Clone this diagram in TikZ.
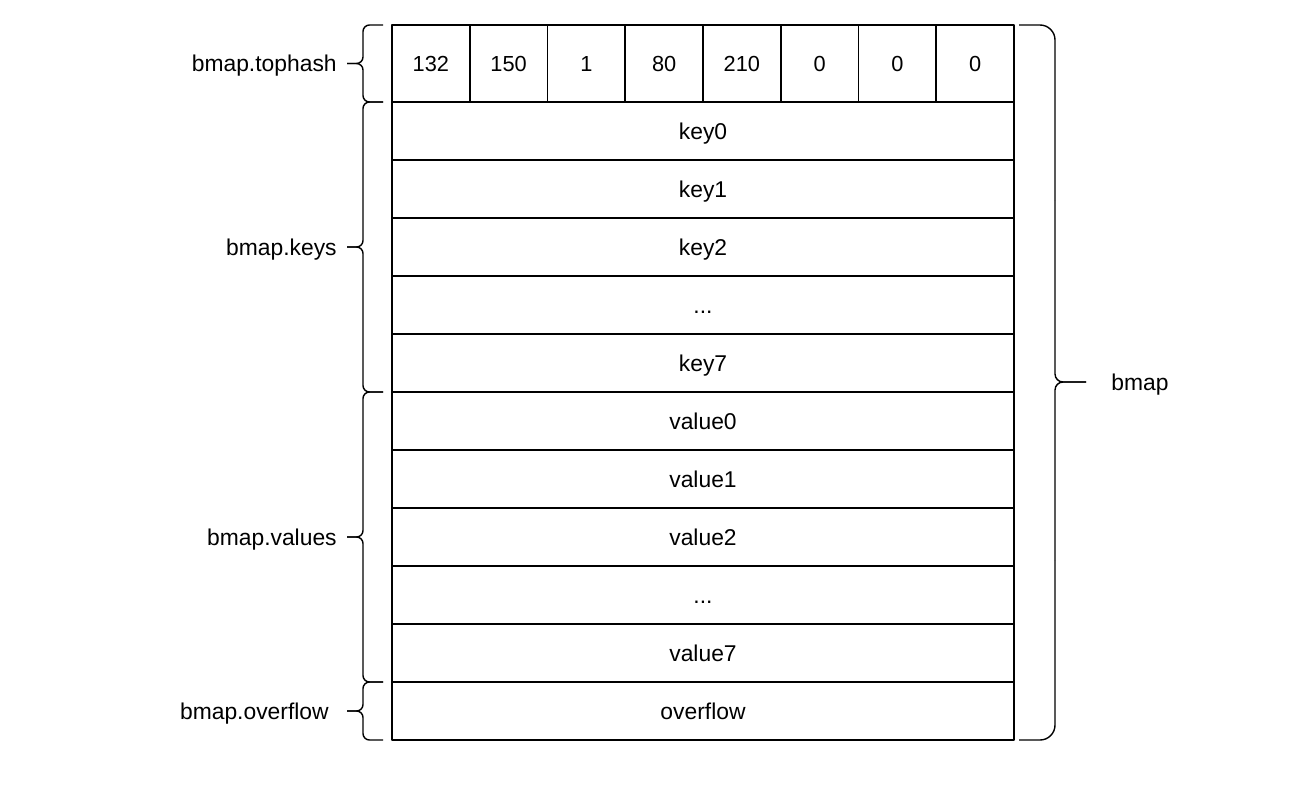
\documentclass[tikz,border=0pt]{standalone}
\usepackage{fontspec}
\setmainfont{Liberation Sans}
\usetikzlibrary{positioning}
\newcommand{\rowdots}{...}

\begin{document}
\begin{tikzpicture}[x=0.2mm, y=-0.2mm, line join=round,
    every node/.style={font=\fontsize{13}{15}\selectfont, text height=9.3pt, text depth=0pt},
    cell/.style={draw, line width=0.9pt, minimum width=15.55mm, minimum height=15.4mm, inner sep=0pt, outer sep=0pt,
                 font=\fontsize{12.4}{15}\selectfont, text height=8.9pt},
    slot/.style={draw, line width=0.9pt, minimum width=124.4mm, minimum height=11.6mm, inner sep=0pt, outer sep=0pt},
    brace/.style={line width=0.8pt, rounded corners=1.3mm}]
        \useasboundingbox (0,0) rectangle (1294,792);

        % Tophash
        \foreach \v [count=\i] in {132,150,1,80,210,0,0,0}
            \node[cell] (th\i) at ({392+77.75*(\i-0.5)}, 63.5) {\v};

        % Claves, valores y overflow
        \node[slot, anchor=north west] (key0) at (th1.south west) {key0};
        \foreach \n/\t [remember=\n as \p (initially key0)] in
            {key1/key1, key2/key2, keyd/\rowdots, key7/key7,
             val0/value0, val1/value1, val2/value2, vald/\rowdots, val7/value7, ovf/overflow}
            \node[slot, below=0pt of \p] (\n) {\t};

        % Llaves de la izquierda
        \def\xa{383}
        \def\xv{363}
        \def\xt{347}
        \foreach \ya/\yb/\lx/\lab/\nm in {25/102/337/bmap.tophash/ltop, 102/392/337/bmap.keys/lkeys,
                                          392/682/337/bmap.values/lvals, 682/740/329/bmap.overflow/lovf} {
            \pgfmathsetmacro\ym{(\ya+\yb)/2}
            \coordinate (\nm tip) at (\xt,\ym);
            \draw[brace] (\xa,\ya) -- (\xv,\ya) -- (\xv,\ym) -- (\nm tip);
            \draw[brace] (\xa,\yb) -- (\xv,\yb) -- (\xv,\ym) -- (\nm tip);
            \node[anchor=east, inner sep=0pt] (\nm) at (\lx,\ym) {\lab};
        }

        % Llave de la derecha
        \coordinate (rtip) at (1086,382);
        \draw[brace, rounded corners=3mm] (1019,25) -- (1055,25) -- (1055,200);
        \draw[brace, rounded corners=3mm] (1019,740) -- (1055,740) -- (1055,560);
        \draw[brace, rounded corners=1.6mm] (1055,200) -- (1055,382) -- (rtip);
        \draw[brace, rounded corners=1.6mm] (1055,560) -- (1055,382) -- (rtip);
        \node[anchor=west, inner sep=0pt] (bmap) at (1111,382) {bmap};

    \end{tikzpicture}
\end{document}
